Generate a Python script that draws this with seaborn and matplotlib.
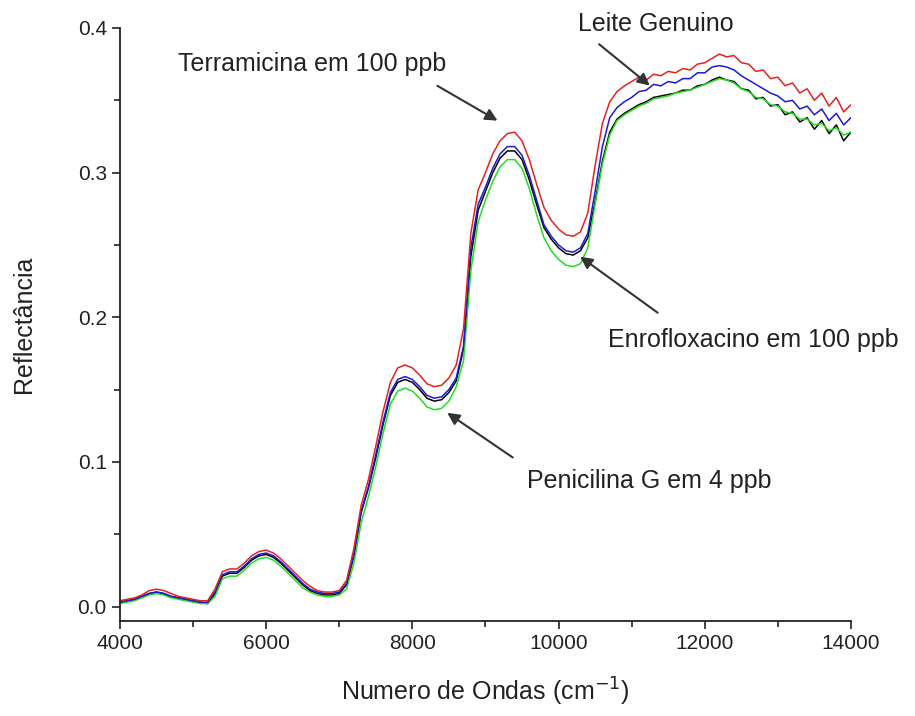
import numpy as np
import pandas as pd
import matplotlib
matplotlib.use("Agg")
import matplotlib.pyplot as plt
import seaborn as sns

# wavenumber grid (cm-1), 100 cm-1 steps
wavenumber = list(range(4000, 14001, 100))

red = [0.004, 0.005, 0.006, 0.008, 0.011, 0.012, 0.011, 0.009, 0.007, 0.006,
       0.005, 0.004, 0.004, 0.012, 0.024, 0.026, 0.026, 0.030, 0.035, 0.038,
       0.039, 0.037, 0.033, 0.028, 0.023, 0.018, 0.014, 0.011, 0.010, 0.010,
       0.011, 0.018, 0.040, 0.070, 0.088, 0.111, 0.135, 0.155, 0.165, 0.167,
       0.165, 0.160, 0.154, 0.152, 0.153, 0.158, 0.167, 0.192, 0.258, 0.288,
       0.300, 0.313, 0.322, 0.327, 0.328, 0.322, 0.309, 0.292, 0.276, 0.267,
       0.261, 0.257, 0.256, 0.259, 0.272, 0.305, 0.334, 0.349, 0.356, 0.360,
       0.363, 0.366, 0.364, 0.368, 0.367, 0.370, 0.369, 0.372, 0.371, 0.375,
       0.376, 0.379, 0.382, 0.380, 0.381, 0.376, 0.375, 0.370, 0.371, 0.365,
       0.366, 0.360, 0.362, 0.355, 0.358, 0.350, 0.355, 0.346, 0.352, 0.342,
       0.347]

blue = [0.003, 0.004, 0.005, 0.007, 0.009, 0.010, 0.009, 0.007, 0.006, 0.005,
        0.004, 0.003, 0.003, 0.010, 0.022, 0.024, 0.024, 0.028, 0.033, 0.036,
        0.037, 0.035, 0.031, 0.026, 0.021, 0.016, 0.012, 0.010, 0.009, 0.009,
        0.010, 0.016, 0.036, 0.066, 0.083, 0.105, 0.128, 0.148, 0.157, 0.159,
        0.157, 0.152, 0.146, 0.144, 0.145, 0.150, 0.158, 0.180, 0.248, 0.278,
        0.290, 0.303, 0.313, 0.318, 0.318, 0.312, 0.298, 0.281, 0.264, 0.256,
        0.250, 0.246, 0.245, 0.248, 0.258, 0.287, 0.318, 0.338, 0.345, 0.349,
        0.352, 0.356, 0.357, 0.361, 0.360, 0.363, 0.362, 0.365, 0.365, 0.369,
        0.369, 0.373, 0.374, 0.373, 0.371, 0.367, 0.364, 0.361, 0.358, 0.355,
        0.353, 0.349, 0.350, 0.344, 0.346, 0.340, 0.344, 0.336, 0.341, 0.333,
        0.338]

black = [0.003, 0.004, 0.005, 0.007, 0.009, 0.010, 0.009, 0.007, 0.006, 0.005,
         0.004, 0.003, 0.002, 0.009, 0.021, 0.023, 0.023, 0.027, 0.032, 0.035,
         0.036, 0.034, 0.030, 0.025, 0.020, 0.015, 0.011, 0.009, 0.008, 0.008,
         0.009, 0.015, 0.035, 0.065, 0.082, 0.103, 0.126, 0.146, 0.155, 0.157,
         0.155, 0.150, 0.144, 0.142, 0.143, 0.148, 0.156, 0.178, 0.242, 0.274,
         0.287, 0.300, 0.310, 0.315, 0.315, 0.309, 0.295, 0.278, 0.262, 0.254,
         0.248, 0.244, 0.243, 0.246, 0.255, 0.280, 0.308, 0.328, 0.337, 0.341,
         0.344, 0.347, 0.349, 0.352, 0.353, 0.354, 0.355, 0.357, 0.357, 0.360,
         0.361, 0.364, 0.366, 0.364, 0.363, 0.358, 0.357, 0.351, 0.352, 0.346,
         0.347, 0.340, 0.342, 0.335, 0.338, 0.330, 0.336, 0.327, 0.333, 0.322,
         0.328]

green = [0.002, 0.003, 0.004, 0.006, 0.008, 0.009, 0.008, 0.006, 0.005, 0.004,
         0.003, 0.002, 0.002, 0.007, 0.019, 0.021, 0.021, 0.025, 0.030, 0.033,
         0.034, 0.032, 0.028, 0.023, 0.018, 0.013, 0.010, 0.008, 0.007, 0.007,
         0.008, 0.012, 0.030, 0.058, 0.076, 0.097, 0.120, 0.140, 0.149, 0.151,
         0.149, 0.144, 0.138, 0.136, 0.137, 0.142, 0.152, 0.170, 0.232, 0.266,
         0.281, 0.294, 0.304, 0.309, 0.309, 0.303, 0.289, 0.271, 0.255, 0.246,
         0.240, 0.236, 0.235, 0.237, 0.248, 0.278, 0.306, 0.326, 0.336, 0.340,
         0.343, 0.346, 0.348, 0.351, 0.352, 0.353, 0.355, 0.356, 0.357, 0.359,
         0.361, 0.363, 0.365, 0.364, 0.362, 0.358, 0.356, 0.352, 0.351, 0.347,
         0.346, 0.342, 0.341, 0.337, 0.337, 0.333, 0.334, 0.329, 0.331, 0.326,
         0.328]

sns.set_style("ticks")
plt.rcParams['font.family'] = ['Liberation Sans', 'DejaVu Sans']

fig = plt.figure(figsize=(9.15, 7.16), dpi=100)
ax = fig.add_axes([0.1311, 0.1327, 0.7989, 0.8282])

series = [(black, "black"), (green, "#22dd22"), (blue, "#1a1ad8"), (red, "#e52222")]
for vals, col in series:
    sns.lineplot(x=wavenumber, y=vals, color=col, lw=1.1, ax=ax)

ax.set_xlim(4000, 14000)
ax.set_ylim(-0.01, 0.4)
ax.set_xticks([4000, 6000, 8000, 10000, 12000, 14000])
ax.set_xticks(range(5000, 14000, 2000), minor=True)
ax.set_yticks([0.0, 0.1, 0.2, 0.3, 0.4])
ax.set_yticks([0.05, 0.15, 0.25, 0.35], minor=True)
ax.yaxis.set_major_formatter(matplotlib.ticker.FormatStrFormatter('%.1f'))
ax.tick_params(axis='both', which='major', labelsize=15, length=6, width=1.2,
               colors='#222222')
ax.tick_params(axis='both', which='minor', length=4, width=1.2, colors='#222222')
sns.despine(ax=ax)
for s in ['left', 'bottom']:
    ax.spines[s].set_linewidth(1.3)
    ax.spines[s].set_color('#222222')

ax.set_xlabel("Numero de Ondas (cm$^{-1}$)", fontsize=18, color='#222222', labelpad=16)
ax.set_ylabel("Reflectância", fontsize=18, color='#222222', labelpad=30)

arrow = dict(arrowstyle='-|>', color='#333333', lw=1.5, mutation_scale=18)
notes = [
    ("Leite Genuino", (11278, 0.359), (10266, 0.403)),
    ("Terramicina em 100 ppb", (9198, 0.335), (4793, 0.375)),
    ("Enrofloxacino em 100 ppb", (10265, 0.243), (10676, 0.184)),
    ("Penicilina G em 4 ppb", (8446, 0.135), (9568, 0.087)),
]
tails = [(10525, 0.390), (8309, 0.361), (11387, 0.202), (9404, 0.102)]
for (txt, head, pos), tail in zip(notes, tails):
    ax.text(pos[0], pos[1], txt, fontsize=18, ha='left', va='center',
            color='#222222', clip_on=False)
    ax.annotate("", xy=head, xytext=tail, arrowprops=arrow, annotation_clip=False)

fig.savefig("out.png", dpi=100)
